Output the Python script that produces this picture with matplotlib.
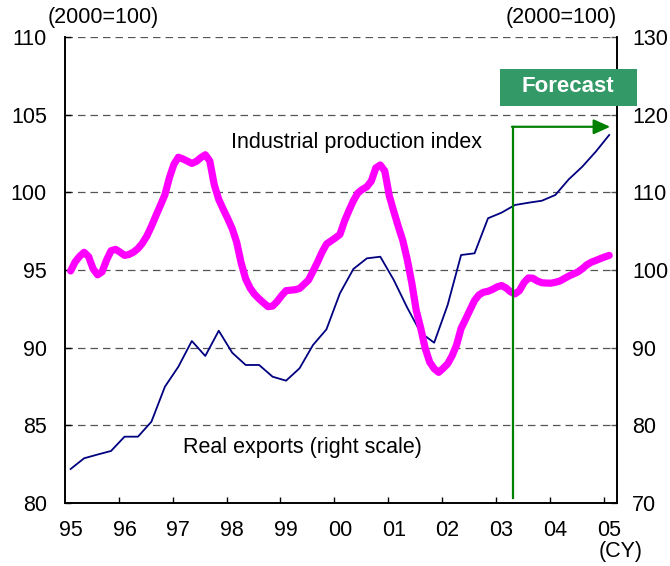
import matplotlib
matplotlib.use("Agg")
import matplotlib.pyplot as plt
from matplotlib.patches import Rectangle
import numpy as np

plt.rcParams['font.family'] = ['Liberation Sans', 'DejaVu Sans']

# Industrial production index (left scale, monthly, 1995/1 - 2005/1)
ip_values = [
    94.94, 95.52, 95.88, 96.14, 95.86, 95.08, 94.69, 94.88, 95.64, 96.24, 96.33, 96.15,
    95.94, 96.00, 96.15, 96.38, 96.73, 97.20, 97.81, 98.50, 99.16, 99.84, 100.94, 101.80,
    102.26, 102.15, 102.01, 101.86, 101.99, 102.23, 102.42, 102.02, 100.49, 99.54, 98.91, 98.31,
    97.66, 96.78, 95.44, 94.43, 93.83, 93.43, 93.14, 92.88, 92.64, 92.68, 92.97, 93.35,
    93.67, 93.70, 93.73, 93.81, 94.08, 94.35, 94.92, 95.50, 96.14, 96.67, 96.87, 97.07,
    97.29, 98.13, 98.82, 99.46, 99.96, 100.19, 100.36, 100.73, 101.57, 101.76, 101.37, 99.78,
    98.77, 97.81, 96.91, 95.68, 94.19, 92.41, 91.26, 89.96, 89.07, 88.65, 88.41, 88.67,
    88.96, 89.48, 90.18, 91.24, 91.83, 92.44, 93.04, 93.40, 93.57, 93.63, 93.75, 93.91,
    94.00, 93.85, 93.60, 93.46, 93.67, 94.18, 94.49, 94.47, 94.29, 94.18, 94.16, 94.15,
    94.21, 94.29, 94.45, 94.61, 94.74, 94.87, 95.08, 95.33, 95.50, 95.61, 95.73, 95.84,
    95.94,
]

# Real exports (right scale, quarterly, 1995Q1 - 2005Q1)
exp_values = [
    74.38, 75.76, 76.24, 76.70, 78.54, 78.54, 80.47, 84.97,
    87.55, 90.86, 88.93, 92.18, 89.35, 87.77, 87.77, 86.26,
    85.75, 87.34, 90.34, 92.36, 97.00, 100.13, 101.50, 101.71,
    98.71, 95.15, 91.93, 90.64, 95.49, 101.93, 102.15, 106.66,
    107.38, 108.37, 108.66, 108.92, 109.66, 111.68, 113.30, 115.23,
    117.38,
]

year_labels = ['95', '96', '97', '98', '99', '00', '01', '02', '03', '04', '05']

left_ticks = [80, 85, 90, 95, 100, 105, 110]
right_ticks = [70, 80, 90, 100, 110, 120, 130]

OFFSET = 0.42  # position of first observation within the first quarter slot

x_ip = np.arange(len(ip_values)) / 3.0 + OFFSET
x_exp = np.arange(len(exp_values)) + OFFSET

FS = 15.5

fig = plt.figure(figsize=(6.7, 5.66), dpi=100)
ax = fig.add_axes([65 / 670, 63 / 566, 552 / 670, 466 / 566])
ax2 = ax.twinx()

# put ax (magenta) above ax2 (navy)
ax.set_zorder(ax2.get_zorder() + 1)
ax.patch.set_visible(False)

ax2.plot(x_exp, exp_values, color='#000080', lw=1.3, zorder=3)
ax.plot(x_ip, ip_values, color='#FF00FF', lw=5.2, solid_joinstyle='round',
        solid_capstyle='round', zorder=3)

ax.set_xlim(0, 41)
ax.set_ylim(80, 110)
ax2.set_ylim(70, 130)

ax.set_yticks(left_ticks)
ax.set_yticklabels([str(t) for t in left_ticks])
ax2.set_yticks(right_ticks)
ax2.set_yticklabels([str(t) for t in right_ticks])

# grid (dashed) on the lower axes
ax2.grid(axis='y', linestyle=(0, (6, 4)), color='#555555', lw=0.9)
ax2.set_axisbelow(True)

# x ticks: labels at first quarter of each year, tick marks at year boundaries
ax.set_xticks([4 * i + OFFSET for i in range(len(year_labels))])
ax.set_xticklabels(year_labels)
ax.set_xticks([4 * i for i in range(1, 11)], minor=True)
ax.tick_params(axis='x', which='major', length=0, pad=12, labelsize=FS)
ax.tick_params(axis='x', which='minor', direction='in', length=4, width=1)
ax.tick_params(axis='y', direction='in', length=4, width=1, pad=13, labelsize=FS)
ax2.tick_params(axis='y', direction='in', length=4, width=1, pad=11, labelsize=FS,
                color='#555555')

for a in (ax, ax2):
    a.spines['top'].set_visible(False)
    for s in ('left', 'right', 'bottom'):
        a.spines[s].set_linewidth(1.2)
        a.spines[s].set_color('black')

# Forecast arrow (left-scale coordinates)
arrow_x = 33.25
arrow_top = 104.22
ax.plot([arrow_x, arrow_x], [80.35, arrow_top], color='#008000', lw=1.6, zorder=5)
ax.annotate('', xy=(40.5, arrow_top), xytext=(arrow_x - 0.05, arrow_top),
            arrowprops=dict(arrowstyle='-|>,head_length=1.0,head_width=0.45',
                            color='#008000', lw=1.6, shrinkA=0, shrinkB=0),
            zorder=5)

# Forecast box
fig.patches.append(Rectangle((500 / 670, (566 - 106) / 566), 137 / 670, 37 / 566,
                             transform=fig.transFigure, facecolor='#339966',
                             edgecolor='none', zorder=10))
fig.text(568 / 670, (566 - 86) / 566, 'Forecast', color='white', fontsize=16,
         fontweight='bold', ha='center', va='center', zorder=11)

# series labels
ax.text(12.33, 103.24, 'Industrial production index', fontsize=FS,
        ha='left', va='center', zorder=6)
ax.text(8.77, 83.6, 'Real exports (right scale)', fontsize=FS,
        ha='left', va='center', zorder=6)

# unit labels
fig.text(48 / 670, (566 - 18) / 566, '(2000=100)', fontsize=FS, ha='left', va='center')
fig.text(617 / 670, (566 - 18) / 566, '(2000=100)', fontsize=FS, ha='right', va='center')
fig.text(621 / 670, (566 - 551) / 566, '(CY)', fontsize=FS, ha='center', va='center')

fig.savefig('out.png', dpi=100)
